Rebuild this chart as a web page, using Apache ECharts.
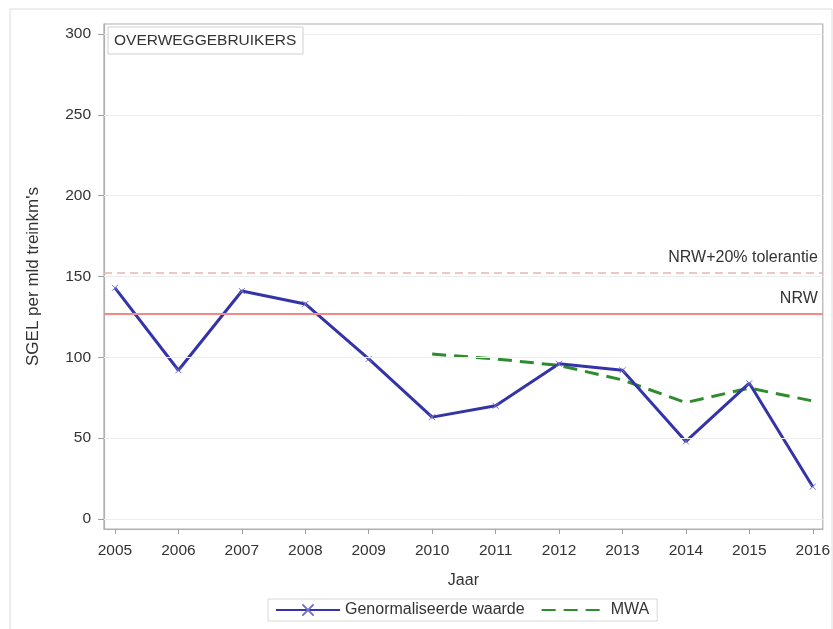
<!DOCTYPE html>
<html><head><meta charset="utf-8">
<script src="https://cdn.jsdelivr.net/npm/echarts@6/dist/echarts.min.js"></script>
<style>html,body{margin:0;padding:0;background:#fff}#c{width:833px;height:629px}</style>
</head><body><div id="c"></div>
<script>
const years = [2005, 2006, 2007, 2008, 2009, 2010, 2011, 2012, 2013, 2014, 2015, 2016];
const genormaliseerd = [143, 92, 141, 133, 99, 63, 70, 96, 92, 48, 84, 20];
const mwa = [null, null, null, null, null, 102, 99, 95, 86, 72, 81, 73];
const nrw = 127;
const nrwTol = 152.4;
const yTicks = [0, 50, 100, 150, 200, 250, 300];

const font = 'Liberation Sans, Arial, sans-serif';
const crossPath = 'path://M0,0L10,10M10,0L0,10';
const pairs = (vals) => years.map((y, i) => [y, vals[i]]).filter(p => p[1] !== null);

const chart = echarts.init(document.getElementById('c'), null, {renderer: 'canvas'});
chart.setOption({
  animation: false,
  backgroundColor: '#fff',
  textStyle: {fontFamily: font},
  grid: {left: 104, right: 10, top: 24, bottom: 100, show: true, borderColor: '#b0b0b0', borderWidth: 1.2, backgroundColor: 'transparent'},
  graphic: [
    {type: 'rect', shape: {x: 10, y: 9, width: 822, height: 640}, style: {fill: 'none', stroke: '#dcdcdc', lineWidth: 1}, z: -1},
    {type: 'rect', shape: {x: 108, y: 27, width: 195, height: 27}, style: {fill: '#fff', stroke: '#cfcfcf', lineWidth: 1}, z: 20},
    {type: 'text', x: 114, y: 41, style: {text: 'OVERWEGGEBRUIKERS', fill: '#333', font: '15.5px ' + font, verticalAlign: 'middle'}, z: 21}
  ],
  legend: {
    top: 599, left: 268,
    borderColor: '#d8d8d8', borderWidth: 1, borderRadius: 0,
    padding: [3, 8, 3, 7],
    itemGap: 16, itemWidth: 64, itemHeight: 14,
    textStyle: {color: '#333', fontSize: 16, fontFamily: font},
    data: [
      {name: 'Genormaliseerde waarde'},
      {name: 'MWA', itemStyle: {opacity: 0}}
    ]
  },
  xAxis: {
    type: 'value', min: 2004.827, max: 2016.158,
    name: 'Jaar', nameLocation: 'middle', nameGap: 44,
    nameTextStyle: {color: '#333', fontSize: 16, fontFamily: font},
    axisLine: {show: true, onZero: false, lineStyle: {color: '#b0b0b0', width: 1.2}},
    axisTick: {show: true, inside: false, length: 5, customValues: years, lineStyle: {color: '#a0a0a0'}},
    axisLabel: {color: '#333', fontSize: 15.5, margin: 14, fontFamily: font, customValues: years,
      formatter: v => String(Math.round(v))},
    splitLine: {show: false}
  },
  yAxis: {
    type: 'value', min: -6.19, max: 306.19,
    name: "SGEL per mld treinkm's", nameLocation: 'middle', nameGap: 62, nameRotate: 90,
    nameTextStyle: {color: '#333', fontSize: 17, fontFamily: font},
    axisLine: {show: true, onZero: false, lineStyle: {color: '#b0b0b0', width: 1.2}},
    axisTick: {show: true, length: 6, customValues: yTicks, lineStyle: {color: '#a0a0a0'}},
    axisLabel: {color: '#333', fontSize: 15.5, margin: 13, fontFamily: font, customValues: yTicks,
      formatter: v => String(Math.round(v))},
    splitLine: {show: false}
  },
  series: [
    {
      name: 'grid', type: 'line', data: [], silent: true, z: 1,
      markLine: {
        symbol: 'none', silent: true, animation: false, label: {show: false},
        lineStyle: {color: '#ededed', width: 1, type: 'solid'},
        data: yTicks.map(v => ({yAxis: v}))
      }
    },
    {
      name: 'ref', type: 'line', data: [], silent: true, z: 2,
      markLine: {
        symbol: 'none', silent: true, animation: false,
        data: [
          {yAxis: nrw, lineStyle: {color: '#f08a8a', width: 2, type: 'solid'},
           label: {show: true, position: 'insideEndTop', formatter: 'NRW', color: '#333', fontSize: 16, fontFamily: font, distance: [5, 7]}},
          {yAxis: nrwTol, lineStyle: {color: '#e8b4b4', width: 1.5, type: [8, 5]},
           label: {show: true, position: 'insideEndTop', formatter: 'NRW+20% tolerantie', color: '#333', fontSize: 16, fontFamily: font, distance: [5, 7]}}
        ]
      }
    },
    {
      name: 'Genormaliseerde waarde', type: 'line', data: pairs(genormaliseerd),
      symbol: crossPath, symbolSize: 6, showSymbol: true,
      itemStyle: {color: '#3434a8', borderColor: '#7070c8', borderWidth: 1},
      lineStyle: {color: '#3434a8', width: 3}, z: 4
    },
    {
      name: 'MWA', type: 'line', data: pairs(mwa),
      symbol: 'none',
      itemStyle: {color: '#2e8b2e'},
      lineStyle: {color: '#2e8b2e', width: 3, type: [14, 8]}, z: 3
    }
  ]
});
</script>
</body></html>
